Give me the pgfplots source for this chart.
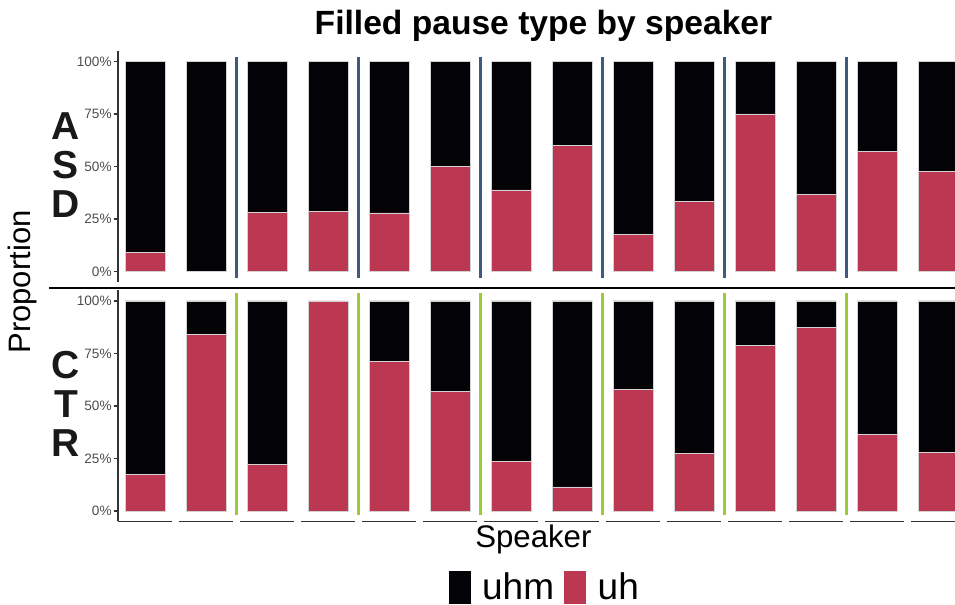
\documentclass[border=0pt]{standalone}
\usepackage{fontspec}
\setmainfont{Liberation Sans}
\usepackage{pgfplots}
\usepackage{pgfplotstable}
\pgfplotsset{compat=1.18}
\definecolor{cred}{HTML}{BC3752}
\definecolor{cblack}{HTML}{030307}
\definecolor{sepblue}{HTML}{3D5A80}
\definecolor{sepgreen}{HTML}{9ACD32}
\definecolor{axgray}{HTML}{333333}
\definecolor{tickgray}{HTML}{4D4D4D}

\pgfplotstableread{
x uh uhm
1 0.09 0.91
2 0.0 1.0
3 0.28 0.72
4 0.286 0.714
5 0.279 0.721
6 0.5 0.5
7 0.389 0.611
8 0.6 0.4
9 0.176 0.824
10 0.333 0.667
11 0.75 0.25
12 0.367 0.633
13 0.57 0.43
14 0.475 0.525
}\asdtable

\pgfplotstableread{
x uh uhm
1 0.176 0.824
2 0.84 0.16
3 0.222 0.778
4 1.0 0.0
5 0.714 0.286
6 0.571 0.429
7 0.238 0.762
8 0.115 0.885
9 0.578 0.422
10 0.273 0.727
11 0.789 0.211
12 0.875 0.125
13 0.364 0.636
14 0.279 0.721
}\ctrtable

\pgfplotsset{
 panel/.style={
  scale only axis, width=418.5pt, height=115.5pt,
  xmin=0.557, xmax=14.278, ymin=-0.05, ymax=1.05,
  ybar stacked, bar width=0.656,
  axis x line=none, axis y line*=left,
  axis line style={axgray, line width=0.9pt},
  ytick={0,0.25,0.5,0.75,1}, yticklabels={0\%,25\%,50\%,75\%,100\%},
  tick align=outside, major tick length=2pt,
  tick style={axgray, line width=0.9pt},
  yticklabel style={font=\fontsize{6.8}{8}\selectfont, text=tickgray, inner sep=1pt},
  /pgf/number format/assume math mode=true,
  clip=false,
  every axis plot/.append style={draw=gray!35, line width=0.3pt},
 },
}

\begin{document}
\begin{tikzpicture}
\clip (0,0) rectangle (477.5pt,302.5pt);

% title
\node[anchor=base, font=\bfseries\fontsize{16.8}{18}\selectfont] at (271.75pt,285pt) {Filled pause type by speaker};

% top panel (ASD)
\begin{axis}[panel, at={(59pt,161.5pt)}, anchor=south west]
\addplot[fill=cred] table[x=x,y=uh]{\asdtable};
\addplot[fill=cblack] table[x=x,y=uhm]{\asdtable};
\draw[sepblue, line width=1.75pt] (axis cs:2.5,-0.03) -- (axis cs:2.5,1.022);
\draw[sepblue, line width=1.75pt] (axis cs:4.5,-0.03) -- (axis cs:4.5,1.022);
\draw[sepblue, line width=1.75pt] (axis cs:6.5,-0.03) -- (axis cs:6.5,1.022);
\draw[sepblue, line width=1.75pt] (axis cs:8.5,-0.03) -- (axis cs:8.5,1.022);
\draw[sepblue, line width=1.75pt] (axis cs:10.5,-0.03) -- (axis cs:10.5,1.022);
\draw[sepblue, line width=1.75pt] (axis cs:12.5,-0.03) -- (axis cs:12.5,1.022);
\end{axis}

% bottom panel (CTR)
\begin{axis}[panel, at={(59pt,41.75pt)}, anchor=south west,
  legend columns=2,
  legend style={at={(0.511,-0.284)}, anchor=center, draw=none, fill=none,
    font=\fontsize{18.5}{20}\selectfont,
    /tikz/every odd column/.append style={column sep=4pt},
    /tikz/every even column/.append style={column sep=3pt}},
]
\addlegendimage{legend image code/.code={\fill[cblack] (0pt,-8pt) rectangle (10.5pt,8pt);}}
\addlegendentry{uhm}
\addlegendimage{legend image code/.code={\fill[cred] (0pt,-8pt) rectangle (10.5pt,8pt);}}
\addlegendentry{uh}
\addplot[fill=cred, forget plot] table[x=x,y=uh]{\ctrtable};
\addplot[fill=cblack, forget plot] table[x=x,y=uhm]{\ctrtable};
\draw[sepgreen, line width=1.75pt] (axis cs:2.5,-0.019) -- (axis cs:2.5,1.037);
\draw[sepgreen, line width=1.75pt] (axis cs:4.5,-0.019) -- (axis cs:4.5,1.037);
\draw[sepgreen, line width=1.75pt] (axis cs:6.5,-0.019) -- (axis cs:6.5,1.037);
\draw[sepgreen, line width=1.75pt] (axis cs:8.5,-0.019) -- (axis cs:8.5,1.037);
\draw[sepgreen, line width=1.75pt] (axis cs:10.5,-0.019) -- (axis cs:10.5,1.037);
\draw[sepgreen, line width=1.75pt] (axis cs:12.5,-0.019) -- (axis cs:12.5,1.037);
\draw[axgray, line width=0.9pt] (axis cs:0.5575,-0.05) -- (axis cs:1.4425,-0.05);
\draw[axgray, line width=0.9pt] (axis cs:1.5575,-0.05) -- (axis cs:2.4425,-0.05);
\draw[axgray, line width=0.9pt] (axis cs:2.5575,-0.05) -- (axis cs:3.4425,-0.05);
\draw[axgray, line width=0.9pt] (axis cs:3.5575,-0.05) -- (axis cs:4.4425,-0.05);
\draw[axgray, line width=0.9pt] (axis cs:4.5575,-0.05) -- (axis cs:5.4425,-0.05);
\draw[axgray, line width=0.9pt] (axis cs:5.5575,-0.05) -- (axis cs:6.4425,-0.05);
\draw[axgray, line width=0.9pt] (axis cs:6.5575,-0.05) -- (axis cs:7.4425,-0.05);
\draw[axgray, line width=0.9pt] (axis cs:7.5575,-0.05) -- (axis cs:8.4425,-0.05);
\draw[axgray, line width=0.9pt] (axis cs:8.5575,-0.05) -- (axis cs:9.4425,-0.05);
\draw[axgray, line width=0.9pt] (axis cs:9.5575,-0.05) -- (axis cs:10.4425,-0.05);
\draw[axgray, line width=0.9pt] (axis cs:10.5575,-0.05) -- (axis cs:11.4425,-0.05);
\draw[axgray, line width=0.9pt] (axis cs:11.5575,-0.05) -- (axis cs:12.4425,-0.05);
\draw[axgray, line width=0.9pt] (axis cs:12.5575,-0.05) -- (axis cs:13.4425,-0.05);
\draw[axgray, line width=0.9pt] (axis cs:13.5575,-0.05) -- (axis cs:14.4425,-0.05);
\end{axis}

% panel separator
\draw[cblack, line width=1.1pt] (24.5pt,158.35pt) -- (477.5pt,158.35pt);

% facet labels
\node[align=center, font=\bfseries\fontsize{19.5}{19.5}\selectfont, text=black!90] at (33pt,219.75pt) {A\\S\\D};
\node[align=center, font=\bfseries\fontsize{19.5}{19.5}\selectfont, text=black!90] at (33pt,100.75pt) {C\\T\\R};

% axis titles
\node[rotate=90, font=\fontsize{15.5}{17}\selectfont] at (11pt,161.5pt) {Proportion};
\node[anchor=base, font=\fontsize{15.6}{17}\selectfont] at (266.7pt,28.5pt) {Speaker};
\end{tikzpicture}
\end{document}
